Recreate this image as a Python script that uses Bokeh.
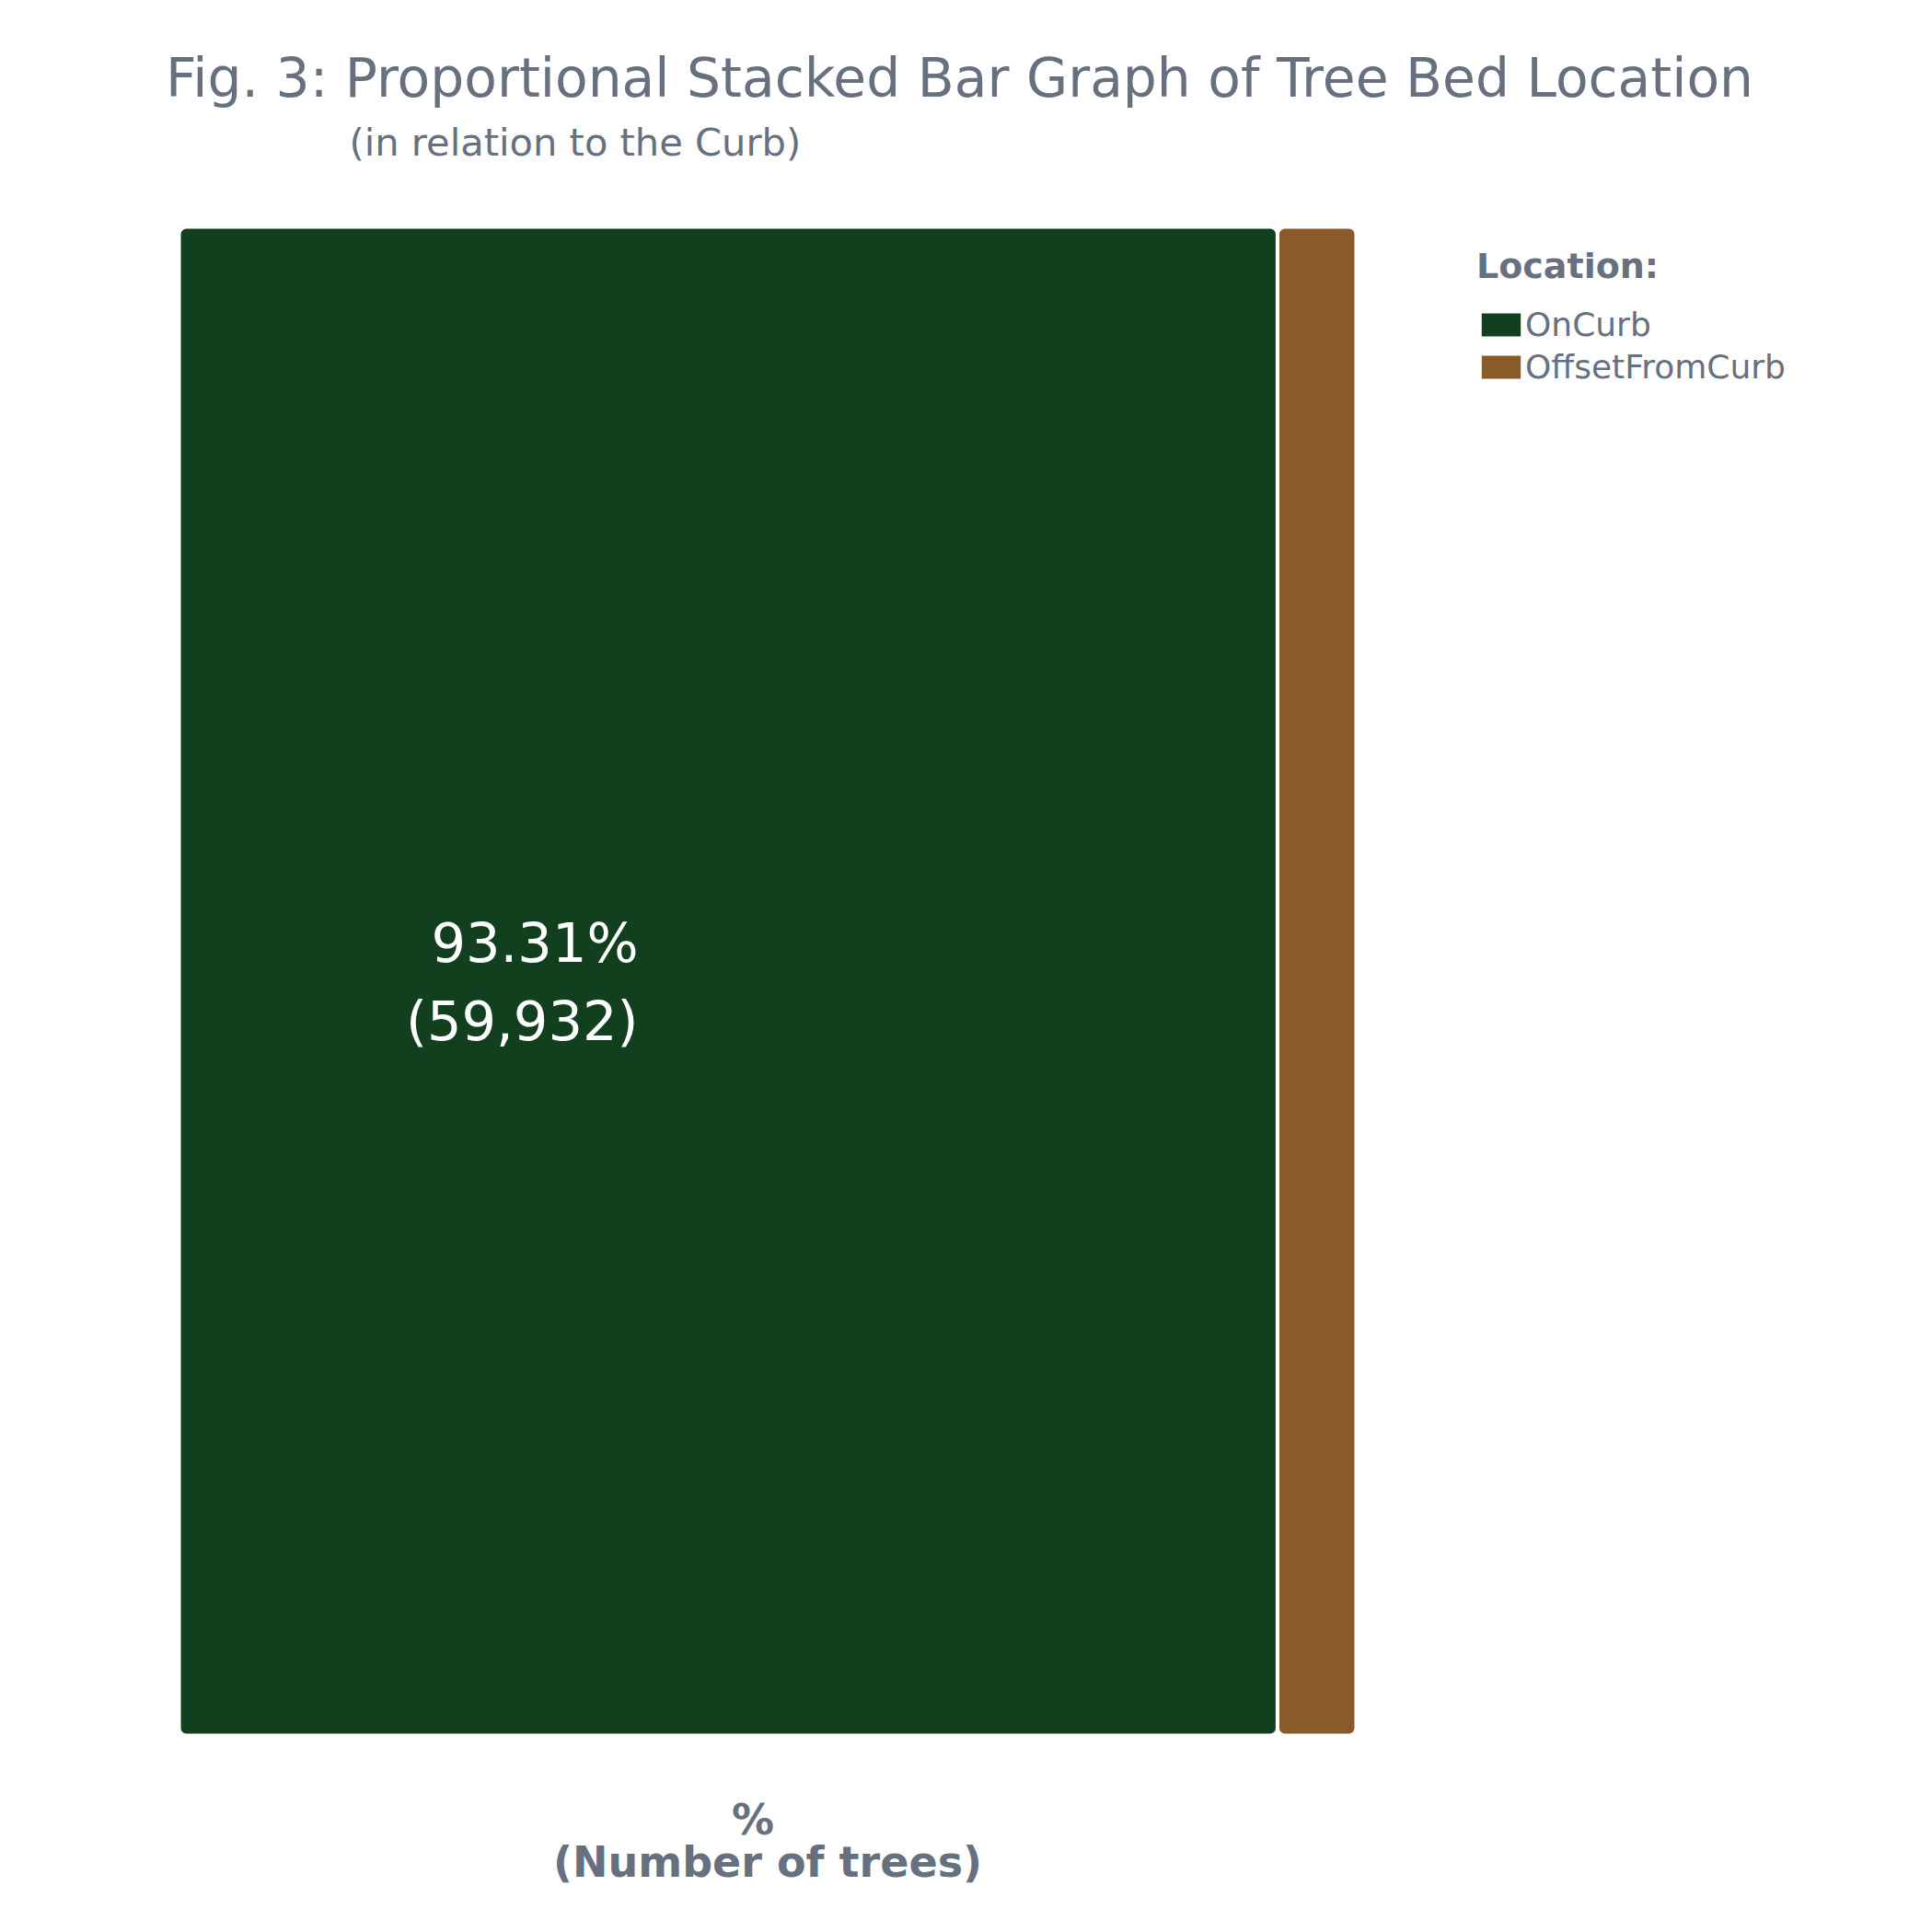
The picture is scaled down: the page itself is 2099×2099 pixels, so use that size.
from bokeh.plotting import figure
from bokeh.models import ColumnDataSource, Label, Legend, LegendItem, Range1d
from bokeh.embed import file_html
from bokeh.resources import INLINE

# data
locations = ["OnCurb", "OffsetFromCurb"]
percent = [93.31, 6.69]
colors = ["#12401e", "#8a5a29"]
on_curb_trees = 59932

gray = "#67707e"
font = "DejaVu Sans"

W = H = 2099
# pixel box of the bar on the canvas
bar_left, bar_right, bar_top, bar_bottom = 194, 1473, 246, 1885
xs = (bar_right - bar_left) / 100.0
ys = float(bar_bottom - bar_top)

source = ColumnDataSource(data=dict(bar=[0], OnCurb=[percent[0]], OffsetFromCurb=[percent[1]]))

p = figure(width=W, height=H,
           x_range=Range1d(-bar_left / xs, (W - bar_left) / xs),
           y_range=Range1d(-0.5 - (H - bar_bottom) / ys, 0.5 + bar_top / ys),
           x_axis_location=None, y_axis_location=None, toolbar_location=None, output_backend="svg",
           min_border=0)
p.outline_line_color = None
p.grid.visible = False

# plain fills (used by the legend), then the same bars with a white edge on top
under = p.hbar_stack(locations, y="bar", height=1, color=colors, source=source,
                     line_color=None, border_radius=8)
p.hbar_stack(locations, y="bar", height=1, color=colors, source=source,
             line_color="white", line_width=4, border_radius=8)


def add_text(x, y, text, size, color=gray, align="left", style="normal"):
    p.add_layout(Label(x=x, y=H - y, x_units="screen", y_units="screen", text=text,
                       text_align=align, text_baseline="alphabetic", text_font=font,
                       text_font_size=size, text_font_style=style, text_color=color))


# title and subtitle
add_text(1042, 84, "Fig. 3: Proportional Stacked Bar Graph of Tree Bed Location", "58.3px", align="center")
add_text(379, 154, "(in relation to the Curb)", "41.6px")

# value label on the big bar
add_text(693, 1024, f"{percent[0]:.2f}%", "59px", color="white", align="right")
add_text(693, 1109, f"({on_curb_trees:,})", "59px", color="white", align="right")

# axis title under the bar
mid = (bar_left + bar_right) / 2
add_text(mid - 16, 1976, "%", "46px", align="center", style="bold")
add_text(mid, 2022, "(Number of trees)", "46px", align="center", style="bold")

legend = Legend(items=[LegendItem(label=loc, renderers=[r]) for loc, r in zip(locations, under)],
                location=(1604, H - 419), title="Location:", title_standoff=21,
                title_text_font=font, title_text_font_size="38px", title_text_font_style="bold",
                title_text_color=gray, label_text_font=font, label_text_font_size="36px",
                label_text_color=gray, glyph_width=53, glyph_height=31, label_standoff=0,
                spacing=5, padding=0, margin=0, border_line_color=None, background_fill_alpha=0)
p.add_layout(legend)

open("out.html", "w").write(file_html(p, INLINE))
